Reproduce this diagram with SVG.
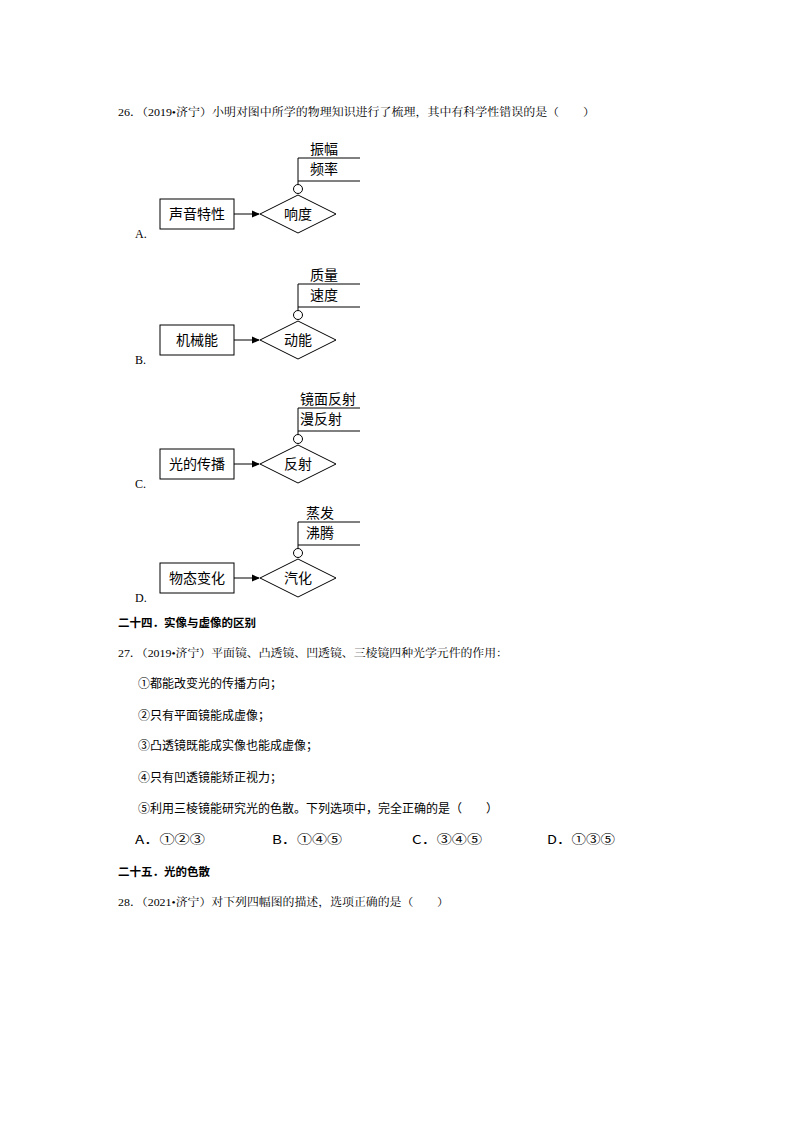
<svg xmlns="http://www.w3.org/2000/svg" width="794" height="1123" viewBox="0 0 794 1123">
<style>
text{font-family:"Liberation Serif","Noto Serif CJK SC","Noto Sans CJK SC",serif;font-size:11px;fill:#000}
.n{font-family:"Noto Sans CJK SC",sans-serif;font-size:14px}
.h{font-family:"Noto Sans CJK SC",sans-serif;font-weight:bold;font-size:11.5px}
.s{font-family:"Noto Sans CJK SC",sans-serif;font-size:12px}
.l{font-size:12px}
.sh{fill:#fff;stroke:#000;stroke-width:1}
.ln{stroke:#000;stroke-width:1;fill:none}
</style>
<defs>
<marker id="ar" markerWidth="8" markerHeight="8" refX="7" refY="4" orient="auto" markerUnits="userSpaceOnUse"><path d="M0,0.5L8,4L0,7.5z" fill="#000"/></marker>
<g id="dg">
<path class="ln" d="M234,214H259" marker-end="url(#ar)"/>
<path class="ln" d="M298,184V158H360M298,181H360"/>
</g>
</defs>
<text x="118" y="116" textLength="477" lengthAdjust="spacingAndGlyphs">26．（2019•济宁）小明对图中所学的物理知识进行了梳理，其中有科学性错误的是（　　）</text>
<g id="connectors">
<use href="#dg"/>
<use href="#dg" y="126"/>
<use href="#dg" y="250"/>
<use href="#dg" y="364"/>
</g>
<g id="A">
<rect class="sh" x="160" y="199" width="74" height="30"/>
<text class="n" x="197" y="219" text-anchor="middle">声音特性</text>
<path class="sh" d="M260,214L298,195L336,214L298,233z"/>
<text class="n" x="298" y="219" text-anchor="middle">响度</text>
<circle class="sh" cx="298" cy="189" r="4.5"/>
<text class="n" x="310" y="154">振幅</text>
<text class="n" x="310" y="174">频率</text>
<text class="l" x="135" y="238">A.</text>
</g>
<g id="B" transform="translate(0,126)">
<rect class="sh" x="160" y="199" width="74" height="30"/>
<text class="n" x="197" y="219" text-anchor="middle">机械能</text>
<path class="sh" d="M260,214L298,195L336,214L298,233z"/>
<text class="n" x="298" y="219" text-anchor="middle">动能</text>
<circle class="sh" cx="298" cy="189" r="4.5"/>
<text class="n" x="310" y="154">质量</text>
<text class="n" x="310" y="174">速度</text>
<text class="l" x="135" y="238">B.</text>
</g>
<g id="C" transform="translate(0,250)">
<rect class="sh" x="160" y="199" width="74" height="30"/>
<text class="n" x="197" y="219" text-anchor="middle">光的传播</text>
<path class="sh" d="M260,214L298,195L336,214L298,233z"/>
<text class="n" x="298" y="219" text-anchor="middle">反射</text>
<circle class="sh" cx="298" cy="189" r="4.5"/>
<text class="n" x="300" y="154">镜面反射</text>
<text class="n" x="300" y="174">漫反射</text>
<text class="l" x="135" y="238">C.</text>
</g>
<g id="D" transform="translate(0,364)">
<rect class="sh" x="160" y="199" width="74" height="30"/>
<text class="n" x="197" y="219" text-anchor="middle">物态变化</text>
<path class="sh" d="M260,214L298,195L336,214L298,233z"/>
<text class="n" x="298" y="219" text-anchor="middle">汽化</text>
<circle class="sh" cx="298" cy="189" r="4.5"/>
<text class="n" x="306" y="154">蒸发</text>
<text class="n" x="306" y="174">沸腾</text>
<text class="l" x="135" y="238">D.</text>
</g>
<text class="h" x="118" y="627">二十四．实像与虚像的区别</text>
<text x="118" y="657" textLength="390" lengthAdjust="spacingAndGlyphs">27．（2019•济宁）平面镜、凸透镜、凹透镜、三棱镜四种光学元件的作用：</text>
<text class="s" x="138" y="688">①都能改变光的传播方向；</text>
<text class="s" x="138" y="720">②只有平面镜能成虚像；</text>
<text class="s" x="138" y="750">③凸透镜既能成实像也能成虚像；</text>
<text class="s" x="138" y="782">④只有凹透镜能矫正视力；</text>
<text class="s" x="138" y="813">⑤利用三棱镜能研究光的色散。下列选项中，完全正确的是（　　）</text>
<text class="s" x="135" y="844" textLength="70" lengthAdjust="spacingAndGlyphs">A．①②③</text>
<text class="s" x="272" y="844" textLength="70" lengthAdjust="spacingAndGlyphs">B．①④⑤</text>
<text class="s" x="412" y="844" textLength="70" lengthAdjust="spacingAndGlyphs">C．③④⑤</text>
<text class="s" x="547" y="844" textLength="68" lengthAdjust="spacingAndGlyphs">D．①③⑤</text>
<text class="h" x="118" y="876">二十五．光的色散</text>
<text x="118" y="906" textLength="331" lengthAdjust="spacingAndGlyphs">28．（2021•济宁）对下列四幅图的描述，选项正确的是（　　）</text>
</svg>
